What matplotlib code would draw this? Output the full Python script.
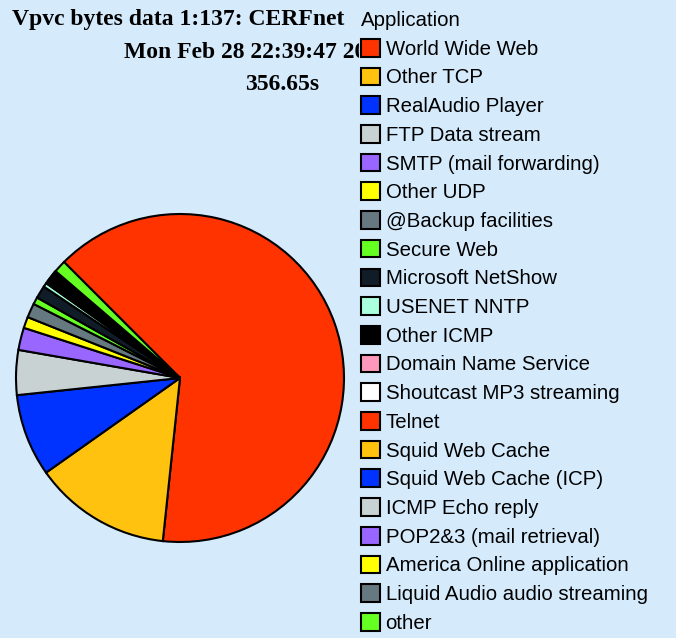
import matplotlib
matplotlib.use("Agg")
import matplotlib.pyplot as plt

# data (share of bytes, %)
apps = [
    "World Wide Web", "Other TCP", "RealAudio Player", "FTP Data stream",
    "SMTP (mail forwarding)", "Other UDP", "@Backup facilities", "Secure Web",
    "Microsoft NetShow", "USENET NNTP", "Other ICMP", "Domain Name Service",
    "Shoutcast MP3 streaming", "Telnet", "Squid Web Cache",
    "Squid Web Cache (ICP)", "ICMP Echo reply", "POP2&3 (mail retrieval)",
    "America Online application", "Liquid Audio audio streaming", "other",
]
share = [64.0, 13.5, 8.1, 4.4, 2.2, 1.1, 1.4, 0.7, 1.25, 0.4, 0.3, 0.2,
         0.2, 0.15, 0.15, 0.12, 0.1, 0.1, 0.08, 0.08, 1.2]
colors = [
    "#ff3300", "#ffc20e", "#0033ff", "#c8d2d2", "#9966ff", "#ffff00",
    "#667880", "#66ff22", "#101c28", "#aaffdd", "#000000", "#ff99bb",
    "#ffffff", "#ff3300", "#ffc20e", "#0033ff", "#c8d2d2", "#9966ff",
    "#ffff00", "#667880", "#66ff22",
]
title_lines = ["Vpvc bytes data 1:137: CERFnet", "Mon Feb 28 22:39:47 2000", "356.65s"]

bg = "#d5ebfc"
W, H = 676, 638
fig = plt.figure(figsize=(W / 100, H / 100), dpi=100, facecolor=bg)

# pie: center (180, 378) px, radius 164 px
r = 164
side = r * 2.2
ax = fig.add_axes([(180 - side / 2) / W, (H - 378 - side / 2) / H, side / W, side / H])
ax.set_facecolor(bg)
wedges, _ = ax.pie(share, colors=colors, startangle=135, counterclock=False,
                   wedgeprops=dict(edgecolor="black", linewidth=1.5))
ax.set_xlim(-1.1, 1.1)
ax.set_ylim(-1.1, 1.1)

# title lines (drawn under the legend, which hides their right end)
tfont = dict(family="Liberation Serif", weight="bold", size=17, color="black")
fig.text(12 / W, 1 - 20 / H, title_lines[0], ha="left", va="center", **tfont)
fig.text(124 / W, 1 - 52 / H, title_lines[1], ha="left", va="center", **tfont)
fig.text(245 / W, 1 - 84 / H, title_lines[2], ha="left", va="center", **tfont)

leg = fig.legend(wedges, apps, title="Application", loc="upper left",
                 bbox_to_anchor=(359 / W, 1 - 9 / H), alignment="left",
                 prop=dict(family="Liberation Sans", size=14.7),
                 title_fontproperties=dict(family="Liberation Sans", size=14.7),
                 frameon=True, facecolor=bg, edgecolor="none", framealpha=1,
                 fancybox=False, borderpad=0.1, borderaxespad=0,
                 handlelength=0.95, handleheight=0.95, handletextpad=0.25,
                 labelspacing=0.435)
leg.set_zorder(5)

fig.savefig("out.png", dpi=100, facecolor=bg)
